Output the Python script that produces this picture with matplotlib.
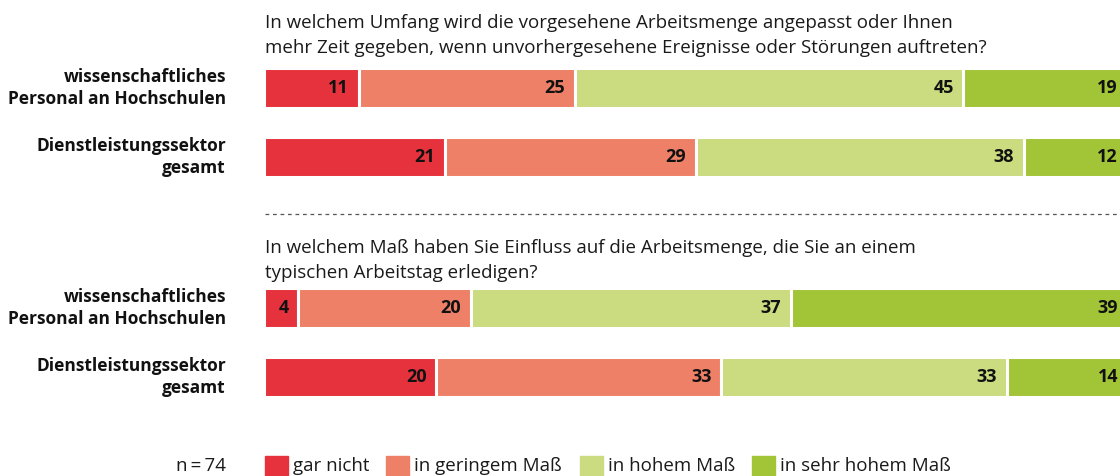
import matplotlib.pyplot as plt

# Anteile in Prozent je Gruppe und Frage
kategorien = ['gar nicht', 'in geringem Maß', 'in hohem Maß', 'in sehr hohem Maß']
farben = ['#E5323D', '#EE8068', '#CBDB80', '#A2C437']

gruppen = ['wissenschaftliches\nPersonal an Hochschulen', 'Dienstleistungssektor\ngesamt']

frage1 = 'In welchem Umfang wird die vorgesehene Arbeitsmenge angepasst oder Ihnen\nmehr Zeit gegeben, wenn unvorhergesehene Ereignisse oder Störungen auftreten?'
werte1 = [[11, 25, 45, 19], [21, 29, 38, 12]]

frage2 = 'In welchem Maß haben Sie Einfluss auf die Arbeitsmenge, die Sie an einem\ntypischen Arbeitstag erledigen?'
werte2 = [[4, 20, 37, 39], [20, 33, 33, 14]]

n_text = 'n\u2009=\u200974'

plt.rcParams['font.family'] = ['Open Sans', 'DejaVu Sans']

W, H = 1120, 476
fig = plt.figure(figsize=(W / 100, H / 100), dpi=100)
# x-Achse in Prozent, y-Achse in Pixeln von oben
x0, x100 = 263.5, 1127.5
ax = fig.add_axes([x0 / W, 0, (x100 - x0) / W, 1])
ax.set_xlim(0, 100)
ax.set_ylim(H, 0)
ax.axis('off')

def zeichne_block(titel, werte, y_titel, y_balken):
    for i, zeile_txt in enumerate(titel.split('\n')):
        ax.text(0.2, y_titel + 25 * i, zeile_txt, fontsize=13.5, va='baseline', ha='left',
                color='#1a1a1a')
    for gruppe, zeile, yb in zip(gruppen, werte, y_balken):
        links = 0
        for v, c in zip(zeile, farben):
            ax.barh(yb, v, left=links, height=40, color=c, edgecolor='white', linewidth=2.2)
            ax.text(links + v - 1.1, yb, str(v), ha='right', va='center',
                    fontsize=13, fontweight='bold', color='#111111')
            links += v
        fig.text(226 / W, 1 - yb / H, gruppe, ha='right', va='center', fontsize=12.5,
                 fontweight='bold', linespacing=1.3, color='#111111')

zeichne_block(frage1, werte1, 28, [88, 157])
ax.plot([0.2, 100], [214, 214], color='#555555', linestyle=(0, (3, 3)), linewidth=0.9)
zeichne_block(frage2, werte2, 253, [308, 377])

# Legende
fig.text(226 / W, 1 - 466 / H, n_text, ha='right', va='center', fontsize=13.5, color='#1a1a1a')
for kat, c, lx in zip(kategorien, farben, [265, 386, 580, 752]):
    fig.patches.append(plt.Rectangle((lx / W, 1 - 479 / H), 23 / W, 23 / H,
                                     transform=fig.transFigure, color=c))
    fig.text((lx + 28) / W, 1 - 466 / H, kat, ha='left', va='center', fontsize=13.5,
             color='#1a1a1a')

fig.savefig('out.png', dpi=100)
